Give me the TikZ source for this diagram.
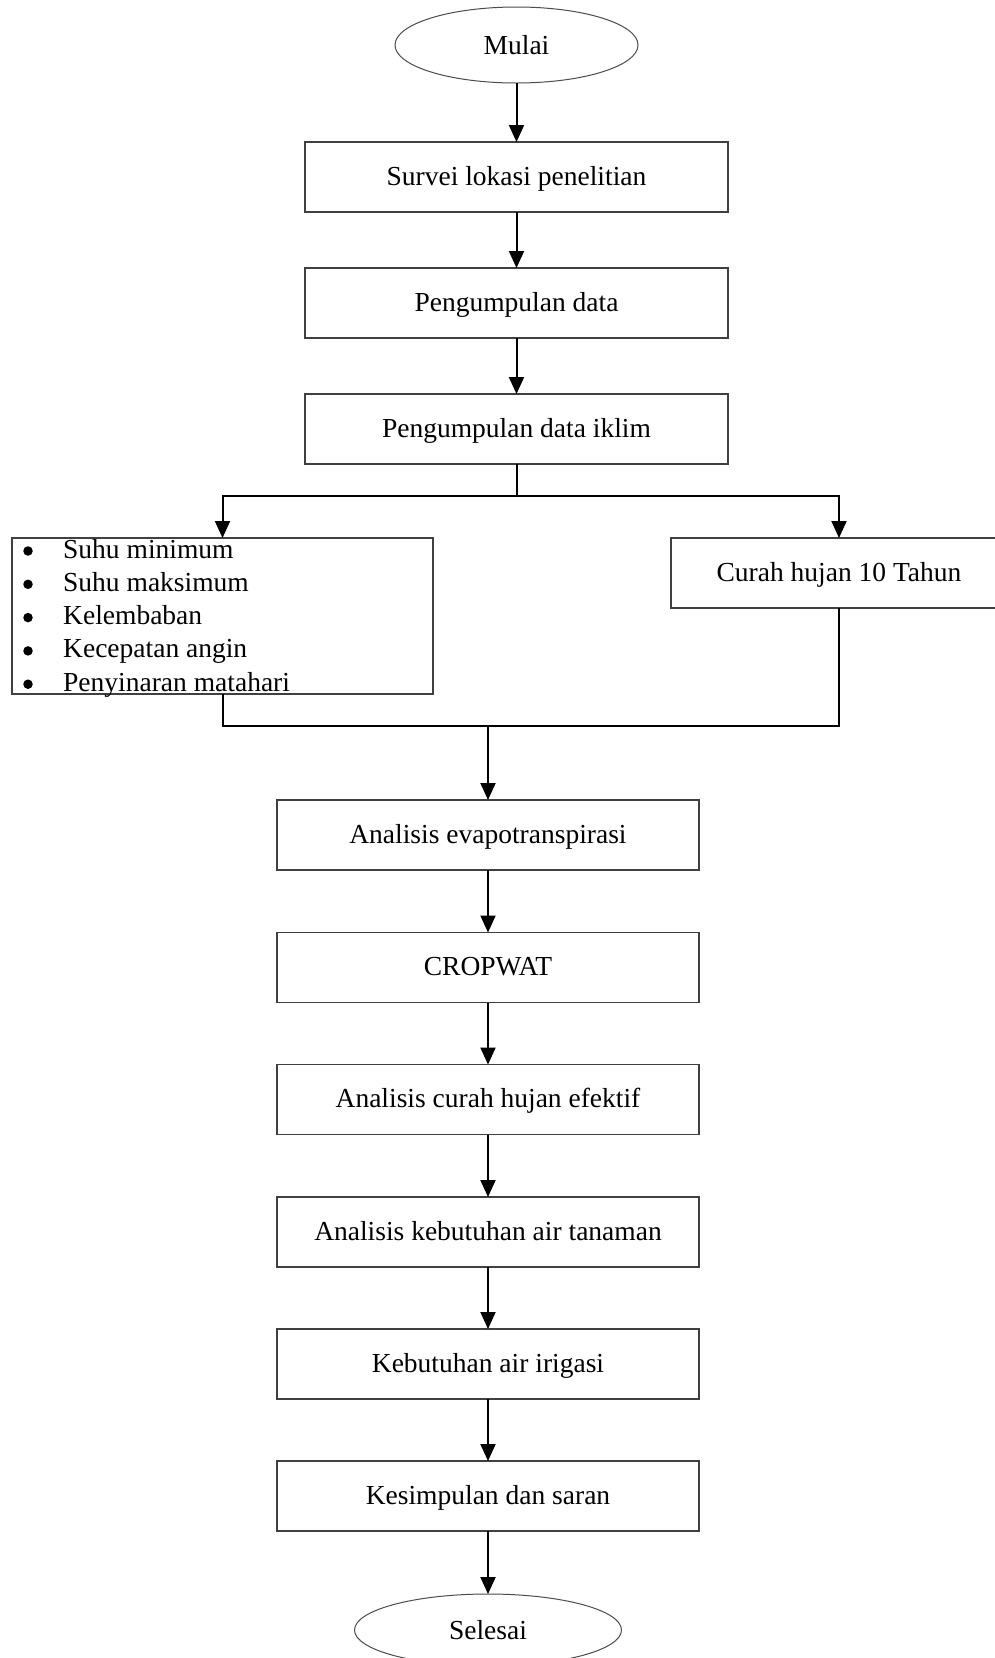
\documentclass[tikz,border=0pt]{standalone}
\usepackage{fontspec}
\setmainfont{Liberation Serif}
\usetikzlibrary{arrows.meta,shapes.geometric}
\begin{document}
\begin{tikzpicture}[x=1pt,y=-1pt,
  font=\fontsize{27.5}{33}\selectfont,
  box/.style={draw=black!75, line width=1.4pt, minimum width=422pt, minimum height=70pt, inner sep=0pt, outer sep=0pt, text=black, text height=21pt, text depth=4.5pt},
  term/.style={ellipse, draw=black!70, line width=1pt, inner sep=0pt, outer sep=0pt, text=black, text height=22pt, text depth=4pt},
  conn/.style={line width=2pt, -{Triangle[length=17pt,width=15pt]}},
  link/.style={line width=2pt},
  bul/.style={circle, fill=black, minimum size=9.5pt, inner sep=0pt},
  item/.style={anchor=base west, inner sep=0pt},
]
\fill[white] (0,0) rectangle (995,1658);
\useasboundingbox (0,0) rectangle (995,1658);

\node[term, minimum width=243pt, minimum height=76pt] (mulai) at (516.5,45) {Mulai};
\node[box, minimum width=423pt] (survei) at (516.5,177) {Survei lokasi penelitian};
\node[box, minimum width=423pt] (kumpul) at (516.5,303) {Pengumpulan data};
\node[box, minimum width=423pt] (iklim) at (516.5,429) {Pengumpulan data iklim};

\node[box, minimum width=421pt, minimum height=156pt] (param) at (222.5,616) {};
\node[box, minimum width=336pt] (hujan) at (839,573) {Curah hujan 10 Tahun};

\node[bul] (d1) at (28,551) {};
\node[bul] (d2) at (28,584.3) {};
\node[bul] (d3) at (28,617.6) {};
\node[bul] (d4) at (28,650.9) {};
\node[bul] (d5) at (28,684.2) {};
\node[item] (i1) at (63,558) {Suhu minimum};
\node[item] (i2) at (63,591.3) {Suhu maksimum};
\node[item] (i3) at (63,624.6) {Kelembaban};
\node[item] (i4) at (63,657.9) {Kecepatan angin};
\node[item] (i5) at (63,691.2) {Penyinaran matahari};

\node[box] (eva) at (488,835) {Analisis evapotranspirasi};
\node[box] (crop) at (488,967.5) {CROPWAT};
\node[box] (efek) at (488,1099.5) {Analisis curah hujan efektif};
\node[box] (tanam) at (488,1232) {Analisis kebutuhan air tanaman};
\node[box] (irig) at (488,1364) {Kebutuhan air irigasi};
\node[box] (simp) at (488,1496) {Kesimpulan dan saran};
\node[term, minimum width=267pt, minimum height=72pt] (selesai) at (488,1630) {Selesai};

\draw[conn] (mulai) -- (survei);
\draw[conn] (survei) -- (kumpul);
\draw[conn] (kumpul) -- (iklim);

\coordinate (split) at (516.5,496);
\draw[link] (iklim.south) -- (split);
\draw[conn] (split) -| (param.north);
\draw[conn] (split) -| (hujan.north);

\coordinate (join) at (488,726);
\draw[link] (param.south) -- (param.south |- join) -- (hujan.south |- join) -- (hujan.south);
\draw[conn] (join) -- (eva);

\draw[conn] (eva) -- (crop);
\draw[conn] (crop) -- (efek);
\draw[conn] (efek) -- (tanam);
\draw[conn] (tanam) -- (irig);
\draw[conn] (irig) -- (simp);
\draw[conn] (simp) -- (selesai);
\end{tikzpicture}
\end{document}
